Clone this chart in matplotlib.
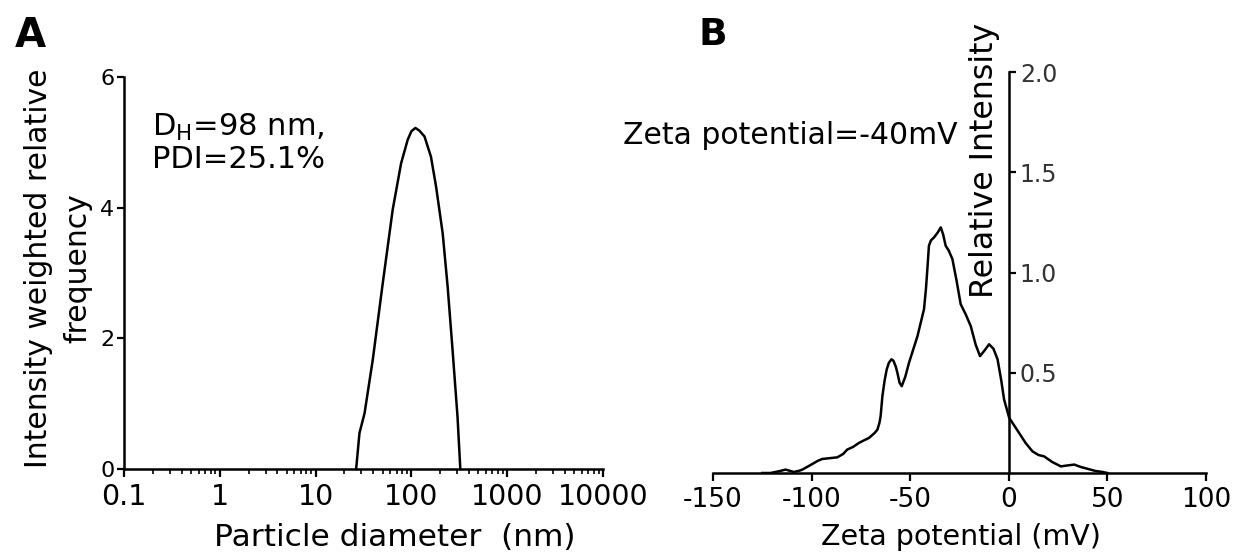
import matplotlib
matplotlib.use("Agg")
import matplotlib.pyplot as plt
from matplotlib.ticker import LogLocator, FixedLocator, NullFormatter, FixedFormatter

plt.rcParams["font.family"] = ["DejaVu Sans"]
plt.rcParams["mathtext.default"] = "regular"

# Panel A: DLS size distribution
size_nm = [26.5, 28.7, 32.4, 39.5, 50.2, 63.8, 78.1, 91.5, 100, 110, 121, 137, 160,
           181, 212, 239, 269, 303, 324]
size_freq = [0, 0.55, 0.85, 1.67, 2.84, 3.97, 4.68, 5.04, 5.17, 5.22, 5.18, 5.09, 4.78,
             4.32, 3.61, 2.79, 1.82, 0.80, 0]
size_ticks = [0.1, 1, 10, 100, 1000, 10000]
size_tick_labels = ["0.1", "1", "10", "100", "1000", "10000"]
freq_ticks = [0, 2, 4, 6]

# Panel B: zeta potential distribution
zeta_mv = [-125, -120.8, -116, -113.2, -109, -106, -104.7, -100.5, -97, -94.6, -87,
           -84, -81.9, -79, -76, -73, -70.9, -68, -66.6, -65.6, -65, -64.1, -63,
           -61.9, -60.8, -59.5, -58.5, -57.3, -56.5, -55.4, -54.3, -52.5, -50.6, -46.3,
           -43, -42, -41.3, -40.5, -39.5, -37.9, -36, -34.5, -33.3, -32, -30.5, -28.6,
           -26.5, -24.4, -21.8, -19.3, -16.8, -14.6, -12.4, -10, -7.8, -5.7, -3.8,
           -2.4, 0.2, 5.2, 8.5, 12, 15, 17.9, 22, 26.4, 30, 33.2, 36.5, 39.9, 44,
           47.6, 50]
zeta_int = [0, 0, 0.01, 0.017, 0.005, 0.012, 0.017, 0.04, 0.06, 0.07, 0.078,
            0.095, 0.117, 0.13, 0.15, 0.165, 0.175, 0.2, 0.217, 0.25, 0.283, 0.383, 0.46,
            0.517, 0.55, 0.567, 0.56, 0.53, 0.5, 0.45, 0.433, 0.48, 0.55, 0.683,
            0.817, 0.92, 1.017, 1.133, 1.16, 1.175, 1.2, 1.225, 1.19, 1.133, 1.11, 1.067,
            0.96, 0.842, 0.79, 0.733, 0.64, 0.583, 0.61, 0.642, 0.62, 0.567, 0.46,
            0.367, 0.275, 0.2, 0.15, 0.108, 0.09, 0.083, 0.055, 0.033, 0.038, 0.042,
            0.03, 0.021, 0.01, 0.005, 0]
zeta_ticks = [-150, -100, -50, 0, 50, 100]
int_ticks = [0.5, 1.0, 1.5, 2.0]

W, H = 1239, 557
fig = plt.figure(figsize=(W / 100, H / 100), dpi=100)


def fx(px):
    return px / W


def fy(py):
    return 1 - py / H


# ---- panel A
axa = fig.add_axes([fx(124), fy(469), fx(603) - fx(124), fy(77) - fy(469)])
axa.plot(size_nm, size_freq, color="black", lw=1.8, clip_on=False)
axa.set_xscale("log")
axa.set_xlim(0.1, 10000)
axa.set_ylim(0, 6)
for s in ("top", "right"):
    axa.spines[s].set_visible(False)
for s in ("left", "bottom"):
    axa.spines[s].set_linewidth(1.8)
axa.xaxis.set_major_locator(FixedLocator(size_ticks))
axa.xaxis.set_major_formatter(FixedFormatter(size_tick_labels))
axa.xaxis.set_minor_locator(LogLocator(base=10, subs=range(2, 10), numticks=20))
axa.xaxis.set_minor_formatter(NullFormatter())
axa.set_yticks(freq_ticks)
axa.tick_params(axis="x", which="major", length=6, width=1.6, labelsize=20.5, pad=4)
axa.tick_params(axis="x", which="minor", length=3.5, width=1.2)
axa.tick_params(axis="y", which="major", length=5, width=1.6, labelsize=16, pad=2)
axa.text(0.058, 0.91, "D$_{H}$=98 nm,\nPDI=25.1%", transform=axa.transAxes,
         ha="left", va="top", fontsize=22, linespacing=1.05)

fig.text(fx(58), fy(268), "Intensity weighted relative\nfrequency", rotation=90,
         ha="center", va="center", fontsize=21.5, multialignment="center", linespacing=1.45)
fig.text(fx(395), fy(537), "Particle diameter  (nm)", ha="center", va="center", fontsize=22.5)
fig.text(fx(15), fy(16), "A", ha="left", va="top", fontsize=29, fontweight="bold")

# ---- panel B
axb = fig.add_axes([fx(713), fy(473), fx(1206) - fx(713), fy(72) - fy(473)])
axb.plot(zeta_mv, zeta_int, color="black", lw=1.8)
axb.set_xlim(-150, 100)
axb.set_ylim(0, 2.0)
axb.spines["top"].set_visible(False)
axb.spines["left"].set_visible(False)
axb.spines["right"].set_position(("data", 0))
axb.spines["right"].set_linewidth(1.8)
axb.spines["bottom"].set_linewidth(1.8)
axb.yaxis.tick_right()
axb.set_yticks(int_ticks)
axb.set_yticklabels([f"{v:.1f}" for v in int_ticks])
axb.set_xticks(zeta_ticks)
axb.set_xticklabels([str(v) for v in zeta_ticks])
axb.tick_params(axis="x", length=6, width=1.6, labelsize=19, pad=4)
axb.tick_params(axis="y", direction="out", length=5, width=1.6, labelsize=17,
                pad=3, labelcolor="#333333")

fig.text(fx(958), fy(136), "Zeta potential=-40mV", ha="right", va="center", fontsize=21.5)
fig.text(fx(984), fy(160), "Relative Intensity", rotation=90, ha="center", va="center",
         fontsize=22.8)
fig.text(fx(961), fy(537), "Zeta potential (mV)", ha="center", va="center", fontsize=20.5)
fig.text(fx(699), fy(17), "B", ha="left", va="top", fontsize=27, fontweight="bold")

fig.savefig("out.png", dpi=100)
